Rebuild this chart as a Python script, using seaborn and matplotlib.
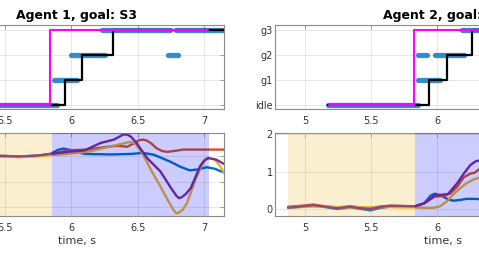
import numpy as np
import pandas as pd
import matplotlib
matplotlib.use("Agg")
import matplotlib.pyplot as plt
import seaborn as sns

sns.set_theme(style="white")
plt.rcParams['font.family'] = ['DejaVu Sans']

# ---------------- data ----------------
levels = [0, 1, 2, 3]
level_labels = ["idle", "g1", "g2", "g3"]

# Agent 1 (left)
a1_obs_start = [5.17, 5.87, 6.00, 6.23, 6.73, 6.79]
a1_obs_end = [5.89, 6.04, 6.25, 6.74, 6.80, 7.16]
a1_obs_level = [0, 1, 2, 3, 2, 3]
a1_est_t = [5.17, 5.95, 6.08, 6.31, 7.16]
a1_est_v = [0, 1, 2, 3, 3]
a1_goal_t = [5.18, 5.84, 7.03]
a1_goal_v = [0, 3, 3]

# Agent 2 (right)
a2_obs_start = [5.17, 5.85, 5.85, 5.98, 6.19]
a2_obs_end = [5.85, 6.02, 5.92, 6.20, 7.00]
a2_obs_level = [0, 1, 2, 2, 3]
a2_est_t = [5.17, 5.94, 6.07, 6.26, 7.00]
a2_est_v = [0, 1, 2, 3, 3]
a2_goal_t = [5.18, 5.82, 7.00]
a2_goal_v = [0, 3, 3]

# phases (shading)
a1_phase1 = [4.87, 5.85]
a1_phase2 = [5.85, 7.04]
a2_phase1 = [4.87, 5.83]
a2_phase2 = [5.83, 7.04]

# tick labels
a1_xticks = [5.5, 6, 6.5, 7]
a1_xticklabels = ["5.5", "6", "6.5", "7"]
a2_xticks = [5, 5.5, 6]
a2_xticklabels = ["5", "5.5", "6"]

# Agent 1 signals
a1_blue_t = [4.87, 5.30, 5.50, 5.60, 5.75, 5.84, 5.90, 5.94, 5.99, 6.04, 6.10, 6.30, 6.45, 6.54, 6.62, 6.68, 6.74, 6.82, 6.89, 6.95, 7.02, 7.08, 7.16]
a1_blue_v = [0.0, 0.0, 0.0, -0.03, 0.02, 0.08, 0.24, 0.29, 0.24, 0.16, 0.08, 0.06, 0.08, 0.12, 0.05, -0.08, -0.21, -0.42, -0.56, -0.53, -0.44, -0.50, -0.67]
a1_red_t = [4.87, 5.50, 5.60, 5.75, 5.84, 5.97, 6.12, 6.27, 6.35, 6.42, 6.48, 6.51, 6.54, 6.57, 6.60, 6.64, 6.68, 6.72, 6.78, 6.84, 7.00, 7.16]
a1_red_v = [0.0, 0.0, -0.03, 0.0, 0.06, 0.22, 0.25, 0.36, 0.40, 0.36, 0.52, 0.62, 0.64, 0.60, 0.50, 0.31, 0.20, 0.16, 0.20, 0.25, 0.25, 0.25]
a1_yel_t = [4.87, 5.50, 5.60, 5.75, 5.84, 5.97, 6.12, 6.30, 6.40, 6.44, 6.48, 6.54, 6.60, 6.67, 6.74, 6.77, 6.79, 6.81, 6.84, 6.87, 6.94, 6.98, 7.01, 7.04, 7.08, 7.12, 7.16]
a1_yel_v = [0.0, -0.02, -0.05, -0.01, 0.03, 0.08, 0.16, 0.38, 0.50, 0.55, 0.50, 0.05, -0.55, -1.19, -1.85, -2.12, -2.24, -2.22, -2.10, -1.85, -0.86, -0.40, -0.15, -0.08, -0.14, -0.40, -0.73]
a1_pur_t = [4.87, 5.50, 5.60, 5.75, 5.84, 5.97, 6.10, 6.22, 6.32, 6.36, 6.39, 6.42, 6.45, 6.49, 6.57, 6.67, 6.75, 6.79, 6.81, 6.83, 6.86, 6.90, 6.97, 7.00, 7.03, 7.09, 7.16]
a1_pur_v = [0.0, 0.0, -0.02, 0.02, 0.08, 0.16, 0.22, 0.51, 0.64, 0.75, 0.84, 0.84, 0.75, 0.51, -0.08, -0.60, -1.25, -1.55, -1.65, -1.62, -1.50, -1.25, -0.40, -0.18, -0.08, -0.14, -0.34]

# Agent 2 signals
a2_t = [4.87, 4.95, 5.06, 5.15, 5.24, 5.34, 5.42, 5.49, 5.56, 5.64, 5.72, 5.83]
a2_blue_v0 = [0.03, 0.05, 0.09, 0.05, 0.00, 0.04, 0.00, -0.04, 0.02, 0.06, 0.07, 0.07]
a2_red_v0 = [0.06, 0.08, 0.12, 0.07, 0.04, 0.07, 0.04, 0.03, 0.06, 0.09, 0.08, 0.07]
a2_yel_v0 = [0.05, 0.05, 0.06, 0.06, 0.05, 0.04, 0.05, 0.05, 0.05, 0.05, 0.04, 0.04]
a2_pur_v0 = [0.04, 0.06, 0.10, 0.06, 0.02, 0.06, 0.02, 0.00, 0.05, 0.08, 0.08, 0.07]
a2_blue_t1 = [5.90, 5.95, 5.98, 6.03, 6.08, 6.12, 6.17, 6.22, 6.28, 6.33]
a2_blue_v1 = [0.15, 0.36, 0.41, 0.36, 0.26, 0.22, 0.24, 0.27, 0.27, 0.26]
a2_red_t1 = [5.90, 5.98, 6.05, 6.10, 6.15, 6.20, 6.25, 6.28, 6.33]
a2_red_v1 = [0.15, 0.33, 0.35, 0.42, 0.60, 0.85, 0.95, 0.97, 1.10]
a2_yel_t1 = [5.90, 5.97, 6.02, 6.07, 6.12, 6.17, 6.22, 6.28, 6.33]
a2_yel_v1 = [0.03, 0.03, 0.07, 0.20, 0.39, 0.55, 0.69, 0.80, 0.86]
a2_pur_t1 = [5.90, 5.98, 6.03, 6.08, 6.15, 6.20, 6.25, 6.29, 6.33]
a2_pur_v1 = [0.15, 0.36, 0.38, 0.40, 0.69, 0.95, 1.18, 1.28, 1.31]

C_BLUE, C_RED, C_YEL, C_PUR = "#0072BD", "#D95319", "#EDB120", "#7E2F8E"

# ---------------- layout ----------------
W, H = 479, 254
fig = plt.figure(figsize=(W / 100, H / 100), dpi=100)


def pos(x0, x1, y0, y1):
    return [x0 / W, 1 - y1 / H, (x1 - x0) / W, (y1 - y0) / H]


ax_lt = fig.add_axes(pos(-70, 224, 25, 109))
ax_lb = fig.add_axes(pos(-70, 224, 133, 216))
ax_rt = fig.add_axes(pos(275, 611, 25, 109))
ax_rb = fig.add_axes(pos(275, 611, 133, 216))

SPINE = "#8a8a8a"
TXT = "#333333"


def style(ax):
    for s in ax.spines.values():
        s.set_color(SPINE)
        s.set_linewidth(0.8)
    ax.tick_params(direction="in", top=True, right=True, length=3, width=0.6,
                   color=SPINE, labelcolor=TXT, labelsize=7, pad=5)
    ax.tick_params(axis="y", pad=1.5)
    ax.grid(True, color="#e2e2e2", linewidth=0.6)
    ax.set_axisbelow(True)


def top_panel(ax, s, e, lv, et, ev, gt, gv, xlim, xt, xtl, ytl, title):
    for a, b, l in zip(s, e, lv):
        sns.lineplot(x=[a, b], y=[l, l], ax=ax, color=C_BLUE, alpha=0.8,
                     linewidth=3.8, solid_capstyle="round", zorder=2)
    sns.lineplot(x=et, y=ev, ax=ax, color="black", linewidth=1.6,
                 drawstyle="steps-post", zorder=3)
    sns.lineplot(x=gt, y=gv, ax=ax, color="#FF00FF", linewidth=1.5,
                 drawstyle="steps-post", zorder=4)
    ax.set_xlim(*xlim)
    ax.set_ylim(-0.16, 3.2)
    ax.set_yticks(levels)
    ax.set_yticklabels(ytl)
    ax.set_xticks(xt)
    ax.set_xticklabels(xtl)
    ax.set_title(title, fontsize=9, fontweight="bold", pad=4, color="black")
    style(ax)


top_panel(ax_lt, a1_obs_start, a1_obs_end, a1_obs_level, a1_est_t, a1_est_v,
          a1_goal_t, a1_goal_v, (4.934, 7.15), a1_xticks, a1_xticklabels,
          [""] * 4, "Agent 1, goal: S3")
top_panel(ax_rt, a2_obs_start, a2_obs_end, a2_obs_level, a2_est_t, a2_est_v,
          a2_goal_t, a2_goal_v, (4.77, 7.315), a2_xticks, a2_xticklabels,
          level_labels, "Agent 2, goal: g3")


def bottom_panel(ax, series, ph1, ph2, xlim, ylim, yticks, ytl, xt, xtl):
    for t, v, c in series:
        sns.lineplot(x=t, y=v, ax=ax, color=c, linewidth=1.7, zorder=2)
    ax.axvspan(ph1[0], ph1[1], color=C_YEL, alpha=0.2, linewidth=0, zorder=3)
    ax.axvspan(ph2[0], ph2[1], color="#0000FF", alpha=0.2, linewidth=0, zorder=3)
    ax.set_xlim(*xlim)
    ax.set_ylim(*ylim)
    ax.set_yticks(yticks)
    ax.set_yticklabels(ytl)
    ax.set_xticks(xt)
    ax.set_xticklabels(xtl)
    ax.set_xlabel("time, s", fontsize=8, color=TXT, labelpad=2)
    style(ax)


bottom_panel(ax_lb, [(a1_blue_t, a1_blue_v, C_BLUE), (a1_red_t, a1_red_v, C_RED),
                     (a1_yel_t, a1_yel_v, C_YEL), (a1_pur_t, a1_pur_v, C_PUR)],
             a1_phase1, a1_phase2, (4.934, 7.15), (-2.35, 0.9), [-2, -1, 0],
             ["", "", ""], a1_xticks, a1_xticklabels)

a2_series = [
    (a2_t + a2_blue_t1, a2_blue_v0 + a2_blue_v1, C_BLUE),
    (a2_t + a2_red_t1, a2_red_v0 + a2_red_v1, C_RED),
    (a2_t + a2_yel_t1, a2_yel_v0 + a2_yel_v1, C_YEL),
    (a2_t + a2_pur_t1, a2_pur_v0 + a2_pur_v1, C_PUR),
]
bottom_panel(ax_rb, a2_series, a2_phase1, a2_phase2, (4.77, 7.315), (-0.19, 2.04),
             [0, 1, 2], ["0", "1", "2"], a2_xticks, a2_xticklabels)

fig.savefig("out.png", dpi=100)
